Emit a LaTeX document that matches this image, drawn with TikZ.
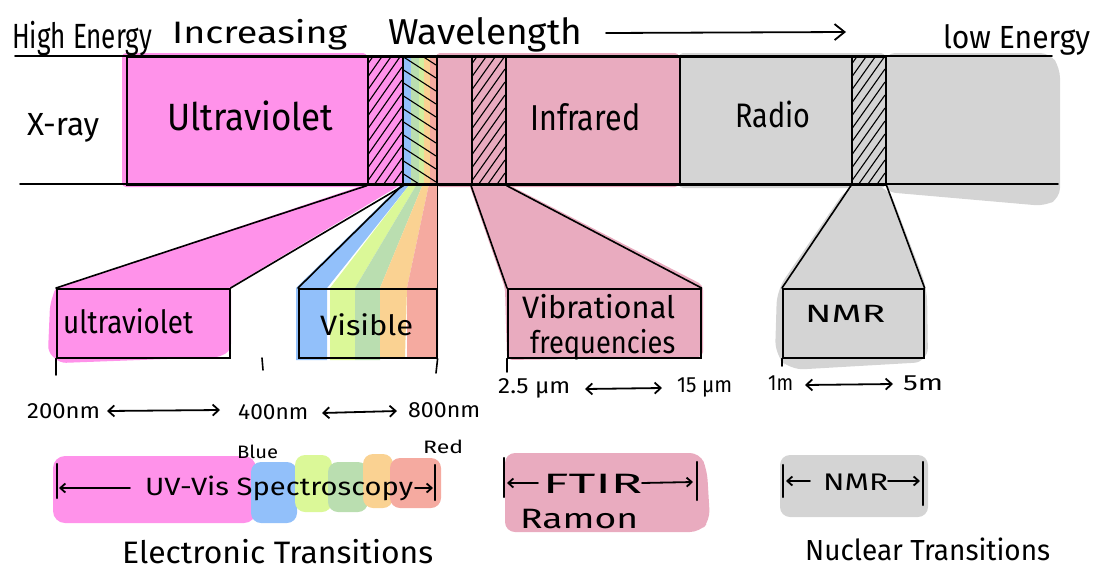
\documentclass[tikz,border=0pt]{standalone}
\usepackage{fontspec}
\setmainfont{Fira Sans}
\usepackage{graphicx}
\usetikzlibrary{arrows.meta}

\definecolor{uvpink}{RGB}{255,146,234}
\definecolor{irpink}{RGB}{233,171,191}
\definecolor{radiogrey}{RGB}{212,212,212}
\definecolor{vblue}{RGB}{146,192,250}
\definecolor{vlime}{RGB}{219,248,152}
\definecolor{vgreen}{RGB}{186,222,176}
\definecolor{vorange}{RGB}{250,210,146}
\definecolor{vred}{RGB}{245,170,160}

% label set at a given size and stretched to a given width
\newcommand{\hw}[3]{{\fontsize{#2pt}{#2pt}\selectfont\resizebox{#1pt}{\height}{#3}}}

\tikzset{
  outline/.style={line width=1.6pt, black, line cap=round, line join=round},
  hatchline/.style={line width=1.1pt, black},
  lbl/.style={inner sep=0pt, anchor=base west},
  seg/.style={draw, line width=1.6pt, inner sep=0pt, anchor=north west, minimum height=128pt},
  lowbox/.style={draw, line width=1.6pt, inner sep=0pt, anchor=north west, minimum height=69pt},
  dbl/.style={line width=1.8pt, line cap=round,
    {Straight Barb[length=6pt,width=11pt]}-{Straight Barb[length=6pt,width=11pt]}},
  sarrow/.style={line width=1.8pt, line cap=round, -{Straight Barb[length=5pt,width=9pt]}},
  bar/.style={line width=2.4pt, line cap=round}
}

\begin{document}
\begin{tikzpicture}[x=1pt,y=-1pt]
\useasboundingbox (0,0) rectangle (1104,571);

% ---------- colour washes of the spectrum band ----------
\fill[uvpink, rounded corners=4] (122,53) rectangle (367,187);
\fill[uvpink] (367,56) rectangle (402,184);
\fill[vblue]   (402,56) rectangle (411,184);
\fill[vgreen]  (411,56) rectangle (419,184);
\fill[vlime!70!vgreen] (419,56) rectangle (424,184);
\fill[vorange] (424,56) rectangle (430,184);
\fill[vred]    (430,56) rectangle (436,184);
\fill[irpink, rounded corners=4] (436,53) rectangle (679,187);
\fill[radiogrey, rounded corners=4] (679,53) rectangle (885,188);
\fill[radiogrey, rounded corners=10] (885,53) -- (1050,53) -- (1060,68) -- (1060,198) -- (1045,206) -- (885,192) -- cycle;

% ---------- colour washes of the fans and lower boxes ----------
\fill[uvpink] (367,184) -- (402,184) -- (229,288) -- (56,288) -- cycle;
\fill[uvpink, rounded corners=6] (56,286) -- (231,286) -- (231,350) -- (220,357) -- (60,363) -- (48,352) -- (50,305) -- cycle;

\fill[vblue]   (402,184) -- (410,184) -- (327,288) -- (327,360) -- (296,360) -- (296,288) -- cycle;
\fill[vlime]   (410,184) -- (417,184) -- (355,288) -- (355,360) -- (330,360) -- (330,288) -- cycle;
\fill[vgreen]  (417,184) -- (423,184) -- (380,288) -- (380,360) -- (355,360) -- (355,288) -- cycle;
\fill[vorange] (423,184) -- (429,184) -- (407,288) -- (405,357) -- (380,357) -- (380,288) -- cycle;
\fill[vred]    (429,184) -- (438,184) -- (438,357) -- (407,357) -- (407,288) -- cycle;

\fill[irpink, rounded corners=5] (469,184) -- (507,184) -- (703,285) -- (703,357) -- (507,360) -- (505,288) -- cycle;
\fill[radiogrey, rounded corners=14] (848,186) -- (888,186) -- (927,288) -- (928,362) -- (790,370) -- (775,355) -- (777,290) -- cycle;

% ---------- segments of the spectrum band ----------
\node[seg, minimum width=241pt] (uvSeg)   at (126,56) {};
\node[seg, minimum width=35pt]  (uvHatch) at (367,56) {};
\node[seg, minimum width=34pt]  (visStrip) at (402,56) {};
\node[seg, minimum width=35pt]  (irGap)   at (436,56) {};
\node[seg, minimum width=34pt]  (irHatch) at (471,56) {};
\node[seg, minimum width=174pt] (irSeg)   at (505,56) {};
\node[seg, minimum width=172pt] (radioSeg) at (679,56) {};
\node[seg, minimum width=34pt]  (nmrHatch) at (851,56) {};

% hatching
\begin{scope}
  \clip (367,56) rectangle (402,184);
  \foreach \y in {52,65,...,260} \draw[hatchline] (367,\y) -- (402,\y-50);
\end{scope}
\begin{scope}
  \clip (402,56) rectangle (436,184);
  \foreach \y in {30,43,...,200} \draw[hatchline] (402,\y) -- (436,\y+22);
\end{scope}
\begin{scope}
  \clip (471,56) rectangle (505,184);
  \foreach \y in {52,65,...,260} \draw[hatchline] (471,\y) -- (505,\y-48);
\end{scope}
\begin{scope}
  \clip (851,56) rectangle (885,184);
  \foreach \y in {52,65,...,260} \draw[hatchline] (851,\y) -- (885,\y-48);
\end{scope}

% long edges of the band
\draw[outline] (15,56) -- (1052,56);
\draw[outline] (20,184) -- (1058,184);

% ---------- lower boxes ----------
\node[lowbox, minimum width=173pt] (uvBox)  at (56,288) {};
\node[lowbox, minimum width=138pt] (visBox) at (298,288) {};
\node[lowbox, minimum width=193pt] (irBox)  at (507,288) {};
\node[lowbox, minimum width=141pt] (nmrBox) at (782,288) {};

% fan connectors
\draw[outline] (uvHatch.south west) -- (uvBox.north west);
\draw[outline] (uvHatch.south east) -- (uvBox.north east);
\draw[outline] (visStrip.south west) -- (visBox.north west);
\draw[outline] (visStrip.south east) -- (visBox.north east);
\draw[outline] (irHatch.south west) -- (irBox.north west);
\draw[outline] (irHatch.south east) -- (irBox.north east);
\draw[outline] (nmrHatch.south west) -- (nmrBox.north west);
\draw[outline] (nmrHatch.south east) -- (nmrBox.north east);

% tick marks under the boxes
\coordinate (t200) at (56,375);
\coordinate (t400a) at (262,358);
\coordinate (t400b) at (263,370);
\coordinate (t800) at (436,373);
\coordinate (t25) at (507,372);
\coordinate (t1m) at (782,366);
\draw[outline] (uvBox.south west) -- (t200);
\draw[outline] (t400a) -- (t400b);
\draw[outline] (visBox.south east) -- (t800);
\draw[outline] (irBox.south west) -- (t25);
\draw[outline] (nmrBox.south west) -- (t1m);

% ---------- title row ----------
\node[lbl] (hiE)  at (12,48)  {\hw{140}{35}{High Energy}};
\node[lbl] (incr) at (172,43) {\hw{175}{31}{Increasing}};
\node[lbl] (wave) at (388,44) {\hw{194}{36}{Wavelength}};
\node[lbl] (lowE) at (943,48) {\hw{147}{32}{low Energy}};
\coordinate (arrS) at (606,33);
\coordinate (arrE) at (846,32);
\draw[line width=1.8pt, line cap=round, -{Straight Barb[length=10pt,width=16pt]}] (arrS) -- (arrE);

% ---------- band labels ----------
\node[lbl] (xray)  at (27,135)  {\hw{72}{32}{X-ray}};
\node[lbl] (uvTop) at (167,130) {\hw{166}{38}{Ultraviolet}};
\node[lbl] (irTop) at (530,130) {\hw{110}{36}{Infrared}};
\node[lbl] (radio) at (735,127) {\hw{75}{34}{Radio}};

% ---------- box labels ----------
\node[lbl] (uvLow)  at (63,333)  {\hw{130}{32}{ultraviolet}};
\node[lbl] (visLow) at (320,335) {\hw{93}{28}{Visible}};
\node[lbl] (vib1)   at (522,318) {\hw{153}{31}{Vibrational}};
\node[lbl] (vib2)   at (530,353) {\hw{145}{31}{frequencies}};
\node[lbl] (nmr1)   at (805,322) {\hw{80}{25}{NMR}};

% ---------- wavelength ranges ----------
\node[lbl] (n200) at (27,418)  {\hw{73}{22}{200nm}};
\node[lbl] (n400) at (238,419) {\hw{70}{22}{400nm}};
\node[lbl] (n800) at (408,417) {\hw{72}{22}{800nm}};
\node[lbl] (m25)  at (498,393) {\hw{72}{22}{2.5 µm}};
\node[lbl] (m15)  at (677,392) {\hw{55}{22}{15 µm}};
\node[lbl] (m1)   at (768,390) {\hw{25}{22}{1m}};
\node[lbl] (m5)   at (903,390) {\hw{40}{22}{5m}};

\coordinate (r1a) at (107,411); \coordinate (r1b) at (220,410);
\coordinate (r2a) at (322,413); \coordinate (r2b) at (397,411);
\coordinate (r3a) at (585,389); \coordinate (r3b) at (662,388);
\coordinate (r4a) at (805,385); \coordinate (r4b) at (893,384);
\draw[dbl] (r1a) -- (r1b);
\draw[dbl] (r2a) -- (r2b);
\draw[dbl] (r3a) -- (r3b);
\draw[dbl] (r4a) -- (r4b);

% ---------- technique legend ----------
\fill[uvpink, rounded corners=12] (53,456) rectangle (256,523);
\fill[vblue, rounded corners=10] (251,462) rectangle (297,523);
\fill[vlime, rounded corners=10] (295,455) rectangle (332,512);
\fill[vgreen, rounded corners=10] (328,462) rectangle (368,512);
\fill[vorange, rounded corners=10] (363,454) rectangle (393,508);
\fill[vred, rounded corners=10] (390,458) rectangle (441,508);
\fill[irpink, rounded corners=10] (505,453) -- (700,453) -- (707,470) -- (710,520) -- (700,532) -- (505,532) -- cycle;
\fill[radiogrey, rounded corners=10] (780,455) rectangle (928,517);

\node[lbl] (blue)  at (237,458) {\hw{41}{18}{Blue}};
\node[lbl] (red)   at (423,453) {\hw{40}{18}{Red}};
\node[lbl] (uvvis) at (145,495) {\hw{268}{25}{UV-Vis Spectroscopy}};
\node[lbl] (elec)  at (122,563) {\hw{311}{31}{Electronic Transitions}};
\node[lbl] (ftir)  at (543,493) {\hw{99}{28}{FTIR}};
\node[lbl] (raman) at (520,528) {\hw{118}{28}{Ramon}};
\node[lbl] (nmr2)  at (823,490) {\hw{65}{24}{NMR}};
\node[lbl] (nucl)  at (805,560) {\hw{245}{29}{Nuclear Transitions}};

% range bars and arrows of the legend
\coordinate (b1t) at (57,464);  \coordinate (b1b) at (57,498);
\coordinate (b2t) at (435,465); \coordinate (b2b) at (435,500);
\coordinate (b3t) at (504,458); \coordinate (b3b) at (504,497);
\coordinate (b4t) at (697,462); \coordinate (b4b) at (697,500);
\coordinate (b5t) at (783,465); \coordinate (b5b) at (783,497);
\coordinate (b6t) at (923,462); \coordinate (b6b) at (923,505);
\draw[bar] (b1t) -- (b1b);
\draw[bar] (b2t) -- (b2b);
\draw[bar] (b3t) -- (b3b);
\draw[bar] (b4t) -- (b4b);
\draw[bar] (b5t) -- (b5b);
\draw[bar] (b6t) -- (b6b);

\coordinate (a1s) at (130,488); \coordinate (a1e) at (59,488);
\coordinate (a2s) at (415,488); \coordinate (a2e) at (433,488);
\coordinate (a3s) at (538,483); \coordinate (a3e) at (507,483);
\coordinate (a4s) at (642,483); \coordinate (a4e) at (693,482);
\coordinate (a5s) at (810,481); \coordinate (a5e) at (786,481);
\coordinate (a6s) at (888,481); \coordinate (a6e) at (920,481);
\draw[sarrow] (a1s) -- (a1e);
\draw[sarrow] (a2s) -- (a2e);
\draw[sarrow] (a3s) -- (a3e);
\draw[sarrow] (a4s) -- (a4e);
\draw[sarrow] (a5s) -- (a5e);
\draw[sarrow] (a6s) -- (a6e);
\end{tikzpicture}
\end{document}
